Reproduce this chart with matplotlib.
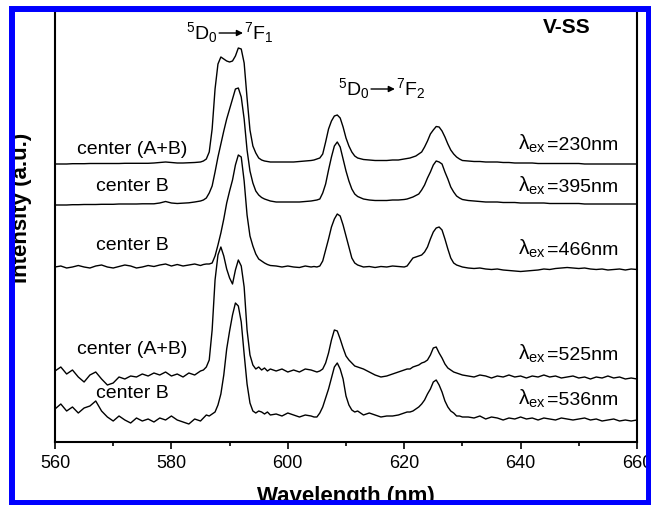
import numpy as np
import matplotlib
matplotlib.use("Agg")
import matplotlib.pyplot as plt
from matplotlib.patches import Rectangle

plt.rcParams['font.family'] = ['Liberation Sans', 'DejaVu Sans']
plt.rcParams['mathtext.fontset'] = 'custom'
plt.rcParams['mathtext.rm'] = 'Liberation Sans'
plt.rcParams['mathtext.it'] = 'Liberation Sans'
plt.rcParams['mathtext.bf'] = 'Liberation Sans:bold'

# wavelength sampling (nm): 1 nm on flat parts, 0.5 nm across the peaks
wl = np.concatenate([
    np.arange(560, 585.5, 1),      # 26
    np.arange(585.5, 597.5, 0.5),  # 24
    np.arange(598, 604.5, 1),      # 7
    np.arange(604.5, 612.5, 0.5),  # 16
    np.arange(613, 620.5, 1),      # 8
    np.arange(620.5, 630.5, 0.5),  # 20
    np.arange(631, 660.5, 1),      # 30
])

# emission intensities (a.u.) above each trace's own baseline
ex230 = [0, 0, 0, 0.3, 0.3, 0.3, 0.5, 0.5, 0.5, 0.5, 0.5, 0.5, 0.7, 0.7, 0.7, 0.7, 0.7, 1, 1.5, 2, 1.5, 1, 1, 1.2, 1.5, 2,
         3, 5, 12, 35, 75, 100, 107, 105, 103, 102, 103, 108, 116, 115, 101, 66, 34, 18, 11, 6, 4, 3, 2.5, 2,
         2, 2, 2, 2, 2.5, 3, 3.5,
         4, 5, 6, 10, 22, 35, 43, 48, 49, 46, 37, 26, 18, 12, 8, 6,
         4.5, 4, 3.5, 3.5, 3.5, 4, 4, 5,
         5.5, 6, 7, 8, 10, 12, 17, 23, 30, 34, 37.5, 37, 33, 27, 20, 14, 10, 7, 5, 3.5,
         3, 2.5, 2.5, 2, 2, 2, 1.5, 1.5, 1, 1, 1, 1, 0.5, 0.5, 0.5, 0.5, 0.5, 0.5, 0.5, 0.5, 0, 0, 0, 0, 0, 0, 0, 0, 0, 0]

ex395 = [0, 0, 0, 0.3, 0.3, 0.5, 0.5, 0.5, 0.7, 0.7, 0.7, 1, 1, 1, 1, 1.2, 1.2, 1.2, 2, 3.5, 2, 1.5, 1.8, 2.2, 3, 4,
         5, 7, 12, 19, 33, 48, 61, 74, 86, 96, 106, 116, 117, 108, 86, 55, 34, 22, 14, 10, 7.5, 6, 5, 4,
         3, 3, 3, 3, 3, 3.5, 4,
         4.5, 5, 6, 12, 21, 35, 48, 59, 63, 58, 46, 34, 24, 16, 11, 8.5,
         6, 5, 4.5, 4.5, 4.5, 5, 5, 5.5,
         6, 7, 8, 9.5, 11, 15, 20, 27, 33, 40, 44, 43, 41, 33, 26, 18, 13, 9, 7, 5.5,
         4.5, 4, 3.5, 3, 3, 3, 2.5, 2.5, 2.5, 2, 2, 2, 2, 2, 1.5, 1.5, 1.5, 1.5, 1.5, 1.5, 1, 1, 1, 1, 1, 1, 1, 1, 1, 1]

ex466 = [0, 1, -1, 0, 1.5, 0, -1, 1, 2, 0, -1, 0.5, 2, 1, -1, 0, 1.5, 0.5, 2, 3, 1, 2.5, 1, 2, 3, 1.5,
         2.5, 3, 3, 4, 11, 22, 34, 48, 64, 76, 87, 102, 112, 110, 86, 52, 31, 21, 13, 8, 6, 4, 2.5, 1.5,
         1, 0, 1, 0, -0.5, 1, 0,
         0.5, 0, 1, 6, 17, 28, 40, 48, 53, 51, 42, 31, 20, 9, 4, 2,
         0, 0.5, -0.5, 0.5, 0, 1, 0.5, 0,
         1, 5, 9, 10, 11, 12, 15, 20, 28, 35, 39, 40, 37, 28, 18, 9, 4, 2, 1, 0,
         -1, -1.5, -1, -2, -2.5, -2, -3, -3.5, -4, -4.5, -4, -3.5, -3, -2, -2.5, -1.5, -1, -0.5, -1, -1.5,
         -1, -2, -2.5, -2, -3, -2.5, -2, -3, -2, -2.5]

ex525 = [4, 8, 1, 5, -2, -7, 0, 3, -4, -10, -8, -2, -4, -1, -2, 1, -1, 2, 0, 3, -1, 1, -2, 2, 0, 4,
         5, 8, 15, 45, 95, 120, 128, 119, 106, 97, 91, 105, 115, 109, 88, 45, 20, 10, 6, 8, 5, 7, 4, 6,
         4, 6, 3, 5, 3, 6, 5,
         4, 3, 4, 6, 12, 22, 35, 45, 44, 36, 27, 19, 15, 12, 9, 8,
         6, 3, 0, -2, -1, 1, 3, 5,
         6, 6, 8, 9, 10, 12, 13, 15, 20, 27, 28, 22, 17, 11, 7, 5, 3, 2, 1, 0,
         -1, -2, 0, -1, -3, -1, -2, 0, -2, -1, -3, -1, -2, 0, -2, -1, -3, -2, -1, -3,
         -2, -4, -2, -3, -1, -3, -2, -4, -3, -4]

ex536 = [8, 13, 6, 10, 4, 9, 11, 16, 6, 0, -4, 1, -3, -6, -1, -4, -2, -5, -1, -3, 1, -3, -5, -7, -2, -4,
         -1, 2, 1, 3, 5, 12, 23, 42, 68, 86, 102, 114, 111, 95, 63, 33, 14, 6, 4, 6, 5, 3, 5, 2,
         3, 1, 4, 2, 0, 2, 1,
         0, 0, 4, 10, 19, 28, 39, 50, 54, 48, 38, 21, 12, 7, 5, 6,
         2, 4, 2, 0, 1, 1, 2, 4,
         5, 5, 6, 8, 10, 13, 17, 23, 28, 35, 37, 32, 25, 16, 10, 6, 4, 1, 1, 0,
         0, -1, 1, -2, 0, -1, -3, -1, -2, 0, -2, -1, -3, -1, -2, -3, -1, -2, -3, -2,
         -1, -3, -2, -4, -3, -2, -4, -3, -4, -3]

spectra = [ex230, ex395, ex466, ex525, ex536]
offsets = [278, 237, 175, 67, 25]
centers = ['center (A+B)', 'center B', 'center B', 'center (A+B)', 'center B']
excitation = ['230', '395', '466', '525', '536']

fig = plt.figure(figsize=(6.51, 5.06), dpi=100)
ax = fig.add_axes([55 / 651, 63 / 506, 582 / 651, 431 / 506])

for spec, off in zip(spectra, offsets):
    ax.plot(wl, np.array(spec) + off, color='black', lw=1.0)

# labels next to each trace
center_y = [294, 257, 197, 94, 49]
ex_y = [293, 251, 188, 83, 38]
for name, ey, cy, lam in zip(centers, ex_y, center_y, excitation):
    ax.text(573.3, cy, name, fontsize=14, ha='center', va='center')
    ax.text(644.6, ey, '=' + lam + 'nm', fontsize=14, ha='left', va='baseline')
    ax.text(644.4, ey, r'$\lambda_{\mathrm{ex}}$', fontsize=15, ha='right', va='baseline')

# transition labels: 5D0 -> 7Fj
for left_x, y, j in [(588.0, 404, 1), (614.1, 348, 2)]:
    ax.text(left_x, y, r'$^{5}$D$_{0}$', fontsize=14, ha='right', va='baseline')
    ax.annotate('', xy=(left_x + 4.3, y + 5), xytext=(left_x + 0.2, y + 5),
                arrowprops=dict(arrowstyle='-|>', color='black', lw=1.0,
                                mutation_scale=9, shrinkA=0, shrinkB=0))
    ax.text(left_x + 4.5, y, r'$^{7}$F$_{%d}$' % j, fontsize=14, ha='left', va='baseline')

ax.text(647.9, 416, 'V-SS', fontsize=15, fontweight='bold', ha='center', va='center')

ax.set_xlim(560, 660)
ax.set_ylim(0, 431)
ax.set_xticks(range(560, 661, 20))
ax.set_xticks(range(570, 660, 20), minor=True)
ax.set_yticks([])
ax.tick_params(axis='x', which='major', direction='out', length=5, width=1.2,
               labelsize=13, pad=4)
ax.tick_params(axis='x', which='minor', direction='out', length=3, width=1.2)
for s in ax.spines.values():
    s.set_linewidth(1.5)

ax.set_xlabel('Wavelength (nm)', fontsize=16, fontweight='bold')
ax.xaxis.set_label_coords(0.5, -0.10)
ax.set_ylabel('Intensity (a.u.)', fontsize=16, fontweight='bold')
ax.yaxis.set_label_coords(-0.04, 0.545)

# blue frame around the whole picture
frame = Rectangle((12 / 651, 2 / 506), 637 / 651, 494 / 506, transform=fig.transFigure,
                  fill=False, edgecolor='#0000ff', lw=4.3, zorder=10)
fig.add_artist(frame)

fig.savefig('out.png', dpi=100)
